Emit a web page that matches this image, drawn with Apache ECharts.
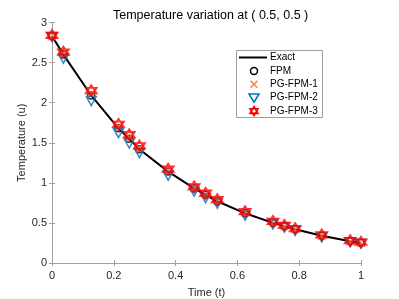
<!DOCTYPE html>
<html><head><meta charset="utf-8">
<script src="https://cdn.jsdelivr.net/npm/echarts@6/dist/echarts.min.js"></script>
<style>html,body{margin:0;padding:0;background:#fff}#c{width:399px;height:299px}</style>
</head><body><div id="c"></div>
<script>
const timePoints = [0, 0.037, 0.127, 0.215, 0.25, 0.283, 0.376, 0.46, 0.497, 0.535, 0.625, 0.715, 0.752, 0.787, 0.873, 0.965, 1.0];
const exactVals = [2.83, 2.60, 2.09, 1.68, 1.55, 1.42, 1.14, 0.93, 0.85, 0.77, 0.62, 0.50, 0.46, 0.42, 0.34, 0.27, 0.25];
const fpmVals   = [2.83, 2.60, 2.09, 1.68, 1.55, 1.42, 1.14, 0.93, 0.85, 0.77, 0.62, 0.50, 0.46, 0.42, 0.34, 0.27, 0.25];
const pg1Vals   = [2.83, 2.61, 2.11, 1.70, 1.57, 1.43, 1.15, 0.94, 0.86, 0.78, 0.63, 0.51, 0.46, 0.42, 0.34, 0.27, 0.25];
const pg2Vals   = [2.82, 2.55, 2.02, 1.62, 1.49, 1.37, 1.09, 0.89, 0.81, 0.74, 0.59, 0.48, 0.44, 0.40, 0.32, 0.26, 0.24];
const pg3Vals   = [2.84, 2.63, 2.15, 1.73, 1.60, 1.46, 1.17, 0.95, 0.87, 0.79, 0.64, 0.52, 0.47, 0.43, 0.35, 0.28, 0.26];
const xTicks = [0, 0.2, 0.4, 0.6, 0.8, 1];
const yTicks = [0, 0.5, 1, 1.5, 2, 2.5, 3];
const seriesNames = ['Exact', 'FPM', 'PG-FPM-1', 'PG-FPM-2', 'PG-FPM-3'];

const pair = v => timePoints.map((t, i) => [t, v[i]]);
const hexPath = 'path://M50,0L93.3,75L6.7,75Z M50,100L6.7,25L93.3,25Z';
const xPath = 'path://M0,0L10,10M10,0L0,10';
const font = 'Liberation Sans, Arial, sans-serif';
const axisCol = '#262626';
const lineCol = '#a0a0a0';
const cBlack = '#000', cOrange = '#FF7F3F', cBlue = '#0072BD', cRed = '#FF0000';

// legend drawn as graphic (layout only)
const lgX = 236, lgY = 50, lgW = 86, lgH = 67, rowH = 13.4, mx = 254, tx = 270;
const rowY = i => lgY + 7.5 + i * rowH;
function hexPts(cx, cy, r) {
  const a = [], b = [];
  for (let k = 0; k < 3; k++) {
    const t1 = -Math.PI / 2 + k * 2 * Math.PI / 3, t2 = Math.PI / 2 + k * 2 * Math.PI / 3;
    a.push([cx + r * Math.cos(t1), cy + r * Math.sin(t1)]);
    b.push([cx + r * Math.cos(t2), cy + r * Math.sin(t2)]);
  }
  return [a, b];
}
const legendGraphics = [
  {type: 'rect', shape: {x: lgX + 0.5, y: lgY + 0.5, width: lgW, height: lgH}, style: {fill: '#fff', stroke: lineCol, lineWidth: 1}, z: 100},
  {type: 'line', shape: {x1: 239, y1: rowY(0), x2: 267, y2: rowY(0)}, style: {stroke: cBlack, lineWidth: 2}, z: 101},
  {type: 'circle', shape: {cx: mx, cy: rowY(1), r: 3.5}, style: {fill: 'none', stroke: cBlack, lineWidth: 1.5}, z: 101},
  {type: 'line', shape: {x1: mx - 3.5, y1: rowY(2) - 3.5, x2: mx + 3.5, y2: rowY(2) + 3.5}, style: {stroke: cOrange, lineWidth: 1.5}, z: 101},
  {type: 'line', shape: {x1: mx - 3.5, y1: rowY(2) + 3.5, x2: mx + 3.5, y2: rowY(2) - 3.5}, style: {stroke: cOrange, lineWidth: 1.5}, z: 101},
  {type: 'polygon', shape: {points: [[mx - 5, rowY(3) - 3.8], [mx + 5, rowY(3) - 3.8], [mx, rowY(3) + 4.5]]}, style: {fill: 'none', stroke: cBlue, lineWidth: 1.5}, z: 101},
  ...hexPts(mx, rowY(4), 4.6).map(p => ({type: 'polygon', shape: {points: p}, style: {fill: 'none', stroke: cRed, lineWidth: 1.6}, z: 101})),
  ...seriesNames.map((n, i) => ({type: 'text', x: tx, y: rowY(i), style: {text: n, fill: '#000', font: '10px ' + font, textVerticalAlign: 'middle', verticalAlign: 'middle'}, z: 101}))
];

const chart = echarts.init(document.getElementById('c'), null, {renderer: 'canvas'});
const axBase = {
  min: 0, axisLine: {show: true, lineStyle: {color: lineCol, width: 1}},
  axisTick: {show: true, inside: true, length: 3, lineStyle: {color: lineCol}},
  splitLine: {show: false}
};
chart.setOption({
  animation: false,
  title: {text: 'Temperature variation at ( 0.5, 0.5 )', left: 108, top: 4,
    textStyle: {fontFamily: font, fontSize: 12.5, fontWeight: 'normal', color: '#000'}},
  grid: {left: 52, right: 38, top: 22.5, bottom: 36, containLabel: false, outerBoundsMode: 'none'},
  graphic: legendGraphics,
  xAxis: [
    Object.assign({}, axBase, {type: 'value', max: 1, interval: 0.2, position: 'bottom',
      axisLabel: {color: axisCol, fontFamily: font, fontSize: 11, margin: 7, formatter: v => xTicks.includes(+v.toFixed(1)) ? String(+v.toFixed(1)) : ''},
      name: 'Time (t)', nameLocation: 'middle', nameGap: 24, nameMoveOverlap: false,
      nameTextStyle: {color: axisCol, fontFamily: font, fontSize: 11}}),
    Object.assign({}, axBase, {type: 'value', max: 1, interval: 0.2, position: 'top', axisLabel: {show: false}})
  ],
  yAxis: [
    Object.assign({}, axBase, {type: 'value', max: 3, interval: 0.5, position: 'left',
      axisLabel: {color: axisCol, fontFamily: font, fontSize: 11, margin: 5, formatter: v => yTicks.includes(+v) ? String(+v) : ''},
      name: 'Temperature (u)', nameLocation: 'middle', nameGap: 25, nameMoveOverlap: false,
      nameTextStyle: {color: axisCol, fontFamily: font, fontSize: 11}}),
    Object.assign({}, axBase, {type: 'value', max: 3, interval: 0.5, position: 'right', axisLabel: {show: false}})
  ],
  series: [
    {name: 'Exact', type: 'line', data: pair(exactVals), symbol: 'none', z: 2,
      lineStyle: {color: cBlack, width: 2}, itemStyle: {color: cBlack}},
    {name: 'FPM', type: 'scatter', data: pair(fpmVals), symbol: 'circle', symbolSize: 7, z: 3,
      itemStyle: {color: 'transparent', borderColor: cBlack, borderWidth: 1.5}},
    {name: 'PG-FPM-1', type: 'scatter', data: pair(pg1Vals), symbol: xPath, symbolSize: 8, z: 4,
      itemStyle: {color: 'transparent', borderColor: cOrange, borderWidth: 1.5}},
    {name: 'PG-FPM-2', type: 'scatter', data: pair(pg2Vals), symbol: 'triangle', symbolRotate: 180, symbolSize: [10, 9], z: 5,
      itemStyle: {color: 'transparent', borderColor: cBlue, borderWidth: 1.5}},
    {name: 'PG-FPM-3', type: 'scatter', data: pair(pg3Vals), symbol: hexPath, symbolSize: 11, z: 6,
      itemStyle: {color: 'transparent', borderColor: cRed, borderWidth: 1.8}}
  ]
});
</script></body></html>
